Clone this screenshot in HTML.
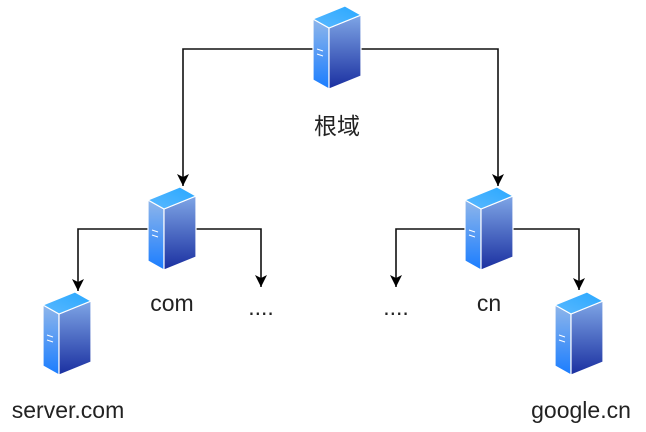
<!DOCTYPE html>
<html><head><meta charset="utf-8"><style>
html,body{margin:0;padding:0;background:#fff;width:646px;height:432px;overflow:hidden}
text{font-family:"Liberation Sans","Noto Sans CJK SC",sans-serif;fill:#222;font-size:23px}
</style></head><body>
<svg width="646" height="432" viewBox="0 0 646 432" xmlns="http://www.w3.org/2000/svg">
<defs>
<linearGradient id="gl" x1="0" y1="0" x2="0" y2="1"><stop offset="0" stop-color="#8fb6ea"/><stop offset="1" stop-color="#1a7dff"/></linearGradient>
<linearGradient id="gr" x1="0" y1="0" x2="0" y2="1"><stop offset="0" stop-color="#7fa6e6"/><stop offset="1" stop-color="#1a2fa0"/></linearGradient>
<linearGradient id="gt" x1="0" y1="1" x2="1" y2="0"><stop offset="0" stop-color="#5ab8ff"/><stop offset="1" stop-color="#29a8ff"/></linearGradient>
<g id="srv">
<polygon points="0,13 16,22 16,83 0,74" fill="url(#gl)" stroke="#fff" stroke-width="1.2"/>
<polygon points="16,22 48,9 48,70 16,83" fill="url(#gr)" stroke="#fff" stroke-width="1.2"/>
<polygon points="0,13 32,0 48,9 16,22" fill="url(#gt)" stroke="#fff" stroke-width="1.2"/>
<line x1="4" y1="43" x2="10" y2="45" stroke="#fff" stroke-width="1"/>
<line x1="4" y1="48" x2="10" y2="50" stroke="#fff" stroke-width="1"/>
</g>
<marker id="ar" markerWidth="14" markerHeight="14" refX="12" refY="7" orient="auto" markerUnits="userSpaceOnUse">
<path d="M0,1 L12,7 L0,13 L3,7 Z" fill="#000"/></marker>
</defs>
<g fill="none" stroke="#111" stroke-width="1.6">
<path d="M313,49 H183 V186" marker-end="url(#ar)"/>
<path d="M361,49 H498 V186" marker-end="url(#ar)"/>
<path d="M148,229 H78 V291" marker-end="url(#ar)"/>
<path d="M195,229 H261 V287" marker-end="url(#ar)"/>
<path d="M465,229 H396 V287" marker-end="url(#ar)"/>
<path d="M512,229 H579 V290" marker-end="url(#ar)"/>
</g>
<use href="#srv" x="313" y="6"/>
<use href="#srv" x="148" y="187"/>
<use href="#srv" x="465" y="187"/>
<use href="#srv" x="43" y="292"/>
<use href="#srv" x="555" y="292"/>
<text x="337" y="134" text-anchor="middle">根域</text>
<text x="172" y="311" text-anchor="middle">com</text>
<text x="261" y="315" text-anchor="middle">....</text>
<text x="396" y="315" text-anchor="middle">....</text>
<text x="489" y="311" text-anchor="middle">cn</text>
<text x="68" y="418" text-anchor="middle">server.com</text>
<text x="581" y="418" text-anchor="middle">google.cn</text>
</svg>
</body></html>
